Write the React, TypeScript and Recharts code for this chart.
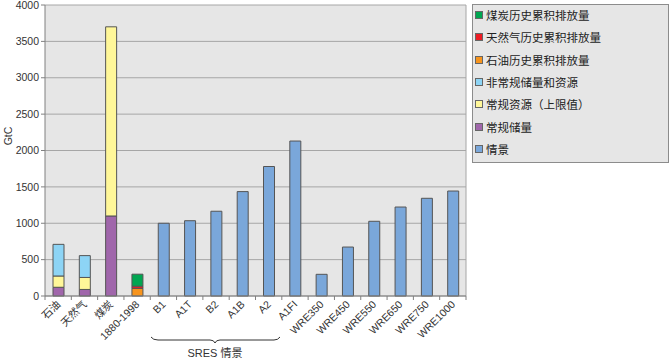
import { BarChart, Bar, XAxis, YAxis, CartesianGrid } from 'recharts';

const categories = ['石油', '天然气', '煤炭', '1880-1998', 'B1', 'A1T', 'B2', 'A1B', 'A2', 'A1FI', 'WRE350', 'WRE450', 'WRE550', 'WRE650', 'WRE750', 'WRE1000'];
const conventionalReserves = [120, 90, 1100, null, null, null, null, null, null, null, null, null, null, null, null, null];
const conventionalResources = [155, 165, 2600, null, null, null, null, null, null, null, null, null, null, null, null, null];
const unconventional = [435, 300, null, null, null, null, null, null, null, null, null, null, null, null, null, null];
const oilHistorical = [null, null, null, 105, null, null, null, null, null, null, null, null, null, null, null, null];
const gasHistorical = [null, null, null, 30, null, null, null, null, null, null, null, null, null, null, null, null];
const coalHistorical = [null, null, null, 165, null, null, null, null, null, null, null, null, null, null, null, null];
const scenarios = [null, null, null, null, 1000, 1035, 1165, 1435, 1780, 2130, 298, 673, 1027, 1223, 1343, 1443];
const yTicks = [0, 500, 1000, 1500, 2000, 2500, 3000, 3500, 4000];

const SERIES = [
  { key: 'coalHist', name: '煤炭历史累积排放量', color: '#00a651' },
  { key: 'gasHist', name: '天然气历史累积排放量', color: '#ed1c24' },
  { key: 'oilHist', name: '石油历史累积排放量', color: '#f7941d' },
  { key: 'unconv', name: '非常规储量和资源', color: '#8dd4f5' },
  { key: 'convRes', name: '常规资源（上限值）', color: '#fff799' },
  { key: 'convResv', name: '常规储量', color: '#a066ab' },
  { key: 'scen', name: '情景', color: '#7aa7da' },
];

const data = categories.map((c, i) => ({
  name: c,
  convResv: conventionalReserves[i],
  convRes: conventionalResources[i],
  unconv: unconventional[i],
  oilHist: oilHistorical[i],
  gasHist: gasHistorical[i],
  coalHist: coalHistorical[i],
  scen: scenarios[i],
}));

const W = 669;
const H = 361;
const LEFT = 45;
const RIGHT = 203;
const BAND = (W - LEFT - RIGHT) / categories.length;
const FONT = '"Liberation Sans Narrow", "Liberation Sans", "Noto Sans CJK SC", sans-serif';
const CJK = '"Noto Sans CJK SC", sans-serif';

const XTick = (props: any) => {
  const { x, y, payload, index } = props;
  const isLast = index === categories.length - 1;
  return (
    <g>
      <line x1={x - BAND / 2} y1={y} x2={x - BAND / 2} y2={y + 4} stroke="#808080" />
      {isLast && <line x1={x + BAND / 2} y1={y} x2={x + BAND / 2} y2={y + 4} stroke="#808080" />}
      <text
        x={x + 3}
        y={y + 9}
        textAnchor="end"
        fontSize={10.5}
        fontFamily={FONT}
        fill="#333"
        transform={`rotate(-45, ${x + 3}, ${y + 9})`}
      >
        {payload.value}
      </text>
    </g>
  );
};

const order = ['convResv', 'convRes', 'unconv', 'oilHist', 'gasHist', 'coalHist', 'scen'];

export default function App() {
  return (
    <div style={{ position: 'absolute', left: 0, top: 0, width: W, height: H, background: '#fff' }}>
      <BarChart width={W} height={H} data={data} margin={{ top: 5, right: RIGHT, bottom: 0, left: 0 }} barCategoryGap={0}>
        <CartesianGrid fill="#e6e6e6" stroke="#a6a6a6" vertical={false} />
        <CartesianGrid stroke="#a6a6a6" horizontal={false} verticalPoints={[W - RIGHT]} />
        <XAxis
          dataKey="name"
          interval={0}
          height={65}
          tickLine={false}
          tickSize={0}
          tickMargin={0}
          axisLine={{ stroke: '#808080' }}
          tick={<XTick />}
        />
        <YAxis
          width={45}
          domain={[0, 4000]}
          ticks={yTicks}
          interval={0}
          axisLine={{ stroke: '#808080' }}
          tickLine={{ stroke: '#808080' }}
          tickSize={4}
          tick={{ fontSize: 10.5, fontFamily: FONT, fill: '#333' }}
        />
        {order.map((k) => {
          const s = SERIES.find((x) => x.key === k)!;
          return (
            <Bar
              key={k}
              dataKey={k}
              name={s.name}
              stackId="a"
              fill={s.color}
              stroke="#555"
              strokeWidth={1}
              barSize={11}
              isAnimationActive={false}
            />
          );
        })}
      </BarChart>
      <svg width={W} height={H} style={{ position: 'absolute', left: 0, top: 0, pointerEvents: 'none' }}>
        <text x={12} y={136} textAnchor="middle" fontSize={10.5} fontFamily={FONT} fill="#333" transform="rotate(-90, 12, 136)">
          GtC
        </text>
        <path
          d="M151 337 Q153 340 158 340 L210 340 Q214 340 215 343 Q216 340 220 340 L274 340 Q278 340 280 337"
          fill="none"
          stroke="#333"
          strokeWidth={1}
        />
        <text x={215} y={357} textAnchor="middle" fontSize={11} fontFamily={FONT} fill="#333">
          SRES <tspan fontFamily={CJK}>情景</tspan>
        </text>
      </svg>
      <div
        style={{
          position: 'absolute',
          left: 472,
          top: 4,
          width: 195,
          height: 157,
          background: '#e6e6e6',
          border: '1px solid #8c8c8c',
          fontFamily: CJK,
          fontSize: 11.5,
          color: '#222',
        }}
      >
        {SERIES.map((s, i) => (
          <div key={s.key} style={{ position: 'absolute', left: 2, top: 2 + i * 22.3, height: 16, display: 'flex', alignItems: 'center' }}>
            <span style={{ display: 'inline-block', width: 6, height: 6, background: s.color, border: '1px solid #666', marginRight: 3 }} />
            <span style={{ whiteSpace: 'nowrap' }}>{s.name}</span>
          </div>
        ))}
      </div>
    </div>
  );
}
